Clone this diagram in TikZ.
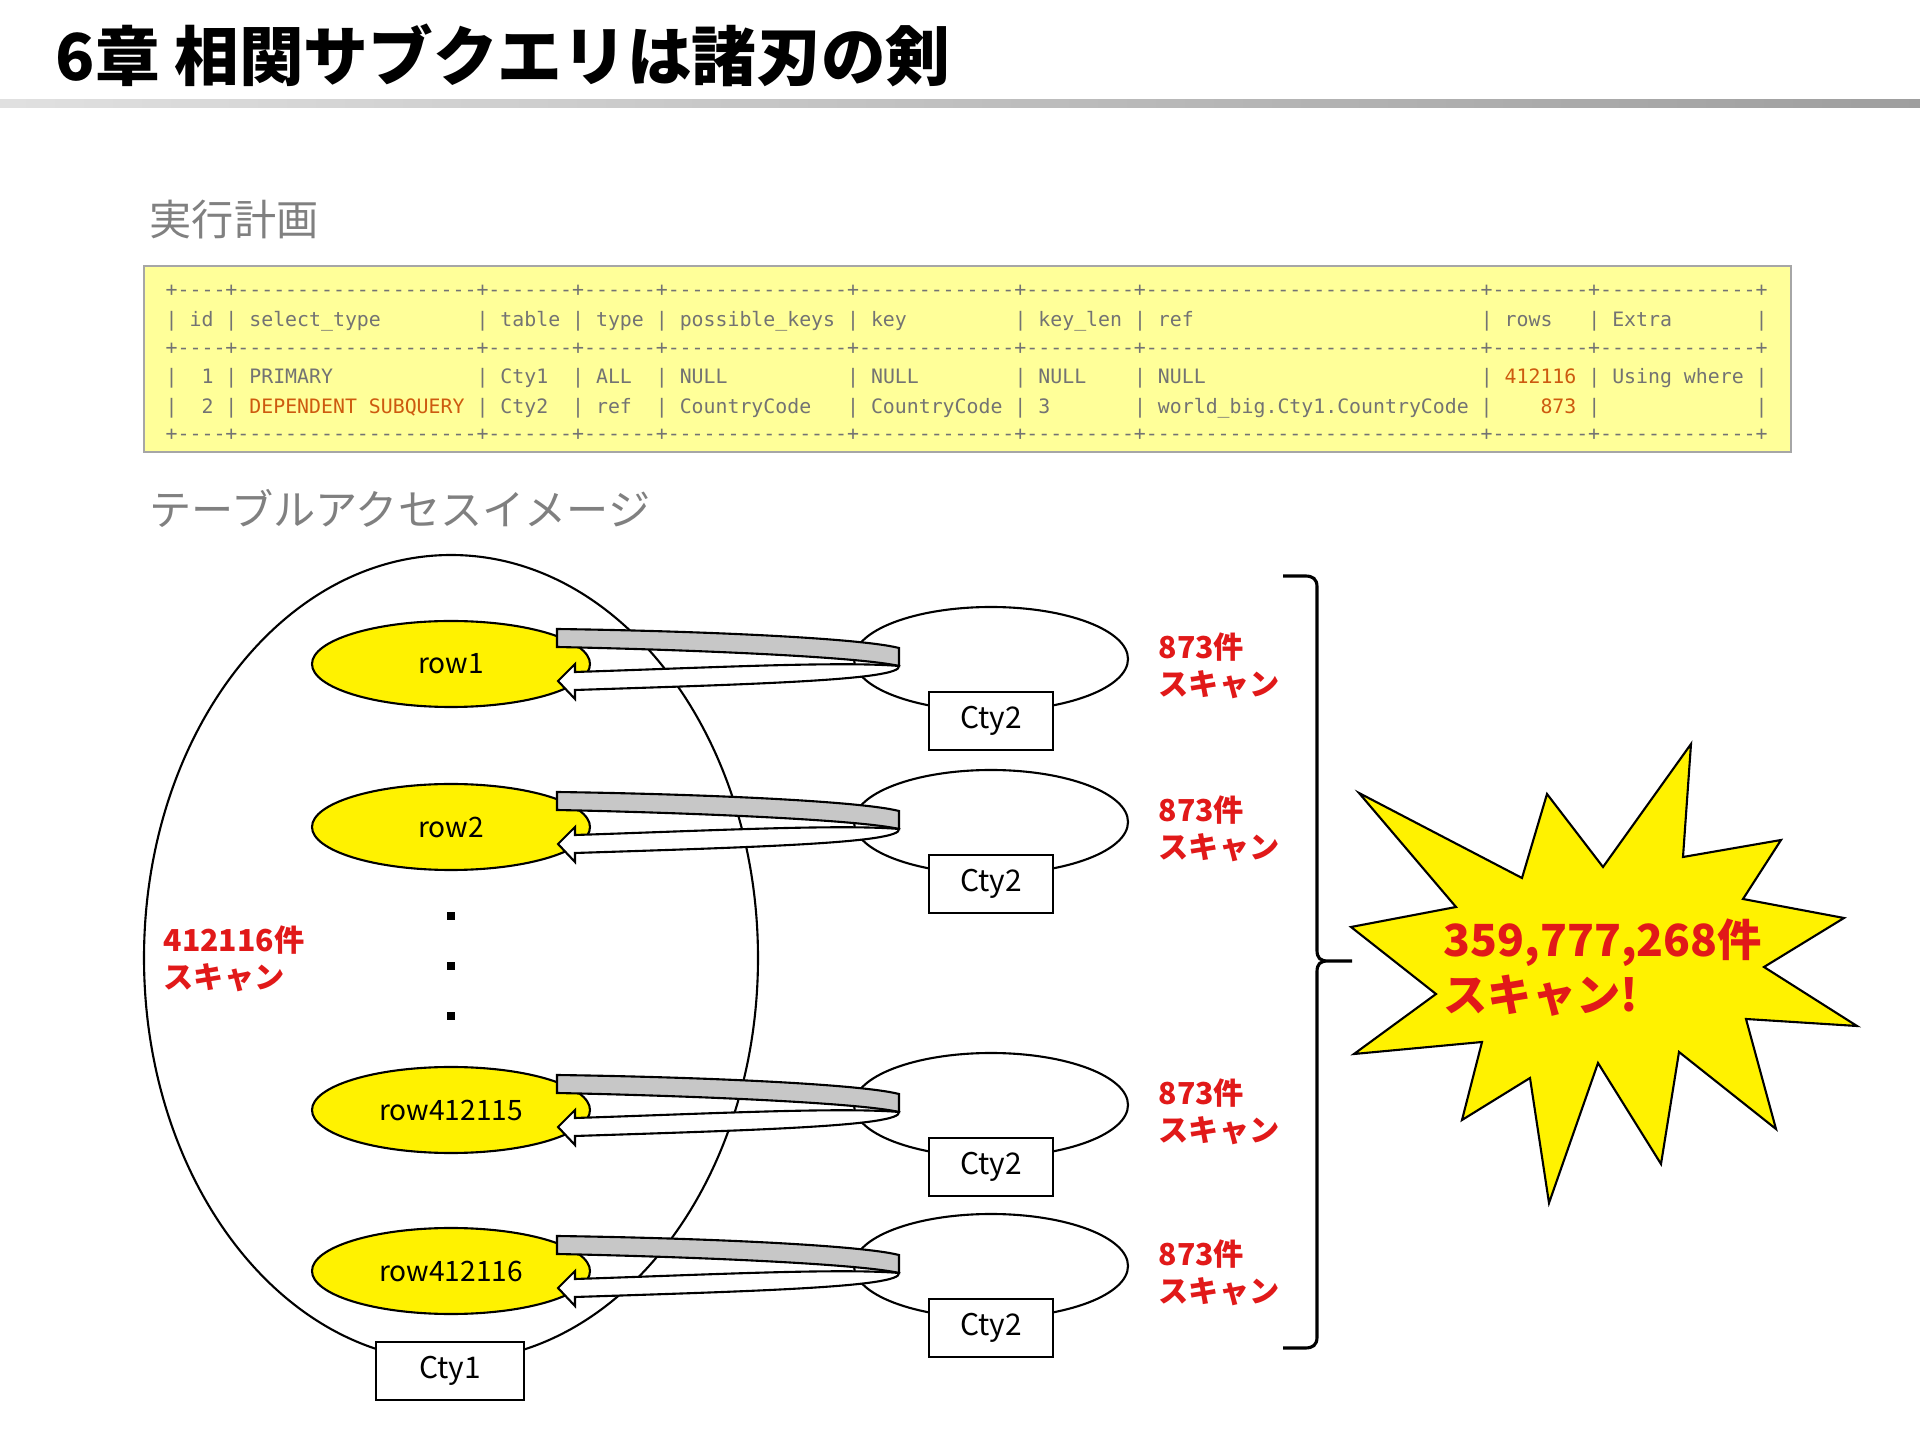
\documentclass[tikz,border=0pt]{standalone}
\usepackage{fontspec}
\setmainfont{Noto Sans CJK JP}
\setmonofont{DejaVu Sans Mono}
\usetikzlibrary{shapes.geometric}

\definecolor{hilite}{RGB}{255,255,153}
\definecolor{scanred}{RGB}{225,25,25}
\definecolor{orng}{RGB}{205,90,15}

\ExplSyntaxOn
\NewDocumentCommand\rep{mm}{\prg_replicate:nn{#1}{#2}}
\ExplSyntaxOff

% lines of the plan table
\newcommand{\tblrule}{+\rep{4}{-}+\rep{20}{-}+\rep{7}{-}+\rep{6}{-}+\rep{15}{-}+\rep{13}{-}+\rep{9}{-}+\rep{28}{-}+\rep{8}{-}+\rep{13}{-}+}
\newcommand{\tblhead}{|~id~|~select\_type\rep{8}{~}|~table~|~type~|~possible\_keys~|~key\rep{9}{~}|~key\_len~|~ref\rep{24}{~}|~rows\rep{3}{~}|~Extra\rep{7}{~}|}
\newcommand{\tblone}{|~~1~|~PRIMARY\rep{12}{~}|~Cty1~~|~ALL~~|~NULL\rep{10}{~}|~NULL\rep{8}{~}|~NULL\rep{4}{~}|~NULL\rep{23}{~}|~\textcolor{orng}{412116}~|~Using~where~|}
\newcommand{\tbltwo}{|~~2~|~\textcolor{orng}{DEPENDENT~SUBQUERY}~|~Cty2~~|~ref~~|~CountryCode~~~|~CountryCode~|~3\rep{7}{~}|~world\_big.Cty1.CountryCode~|\rep{4}{~}\textcolor{orng}{873}~|\rep{13}{~}|}

\begin{document}
\begin{tikzpicture}[x=0.1mm, y=-0.1mm,
  tblline/.style={anchor=west, inner sep=0pt, text=black!55, font=\ttfamily\fontsize{5.65}{6.5}\selectfont},
  rowell/.style={ellipse, draw, fill=yellow, line width=0.6pt, minimum width=27.8mm, minimum height=8.6mm, inner sep=0pt, font=\fontsize{8}{9.6}\selectfont},
  tblell/.style={ellipse, draw, line width=0.6pt, minimum width=27.4mm, minimum height=10.4mm},
  namebox/.style={draw, fill=white, line width=0.6pt, minimum width=12.4mm, minimum height=5.8mm, inner sep=0pt, font=\fontsize{8.5}{10}\selectfont},
  scanlbl/.style={anchor=west, align=left, inner sep=0pt, text=scanred, font=\bfseries\fontsize{8.6}{10.5}\selectfont},
  backband/.style={fill=black!22, draw, line width=0.6pt},
  frontband/.style={fill=white, draw, line width=0.6pt}]

  \useasboundingbox (0,0) rectangle (1920,1440);
  \fill[white] (0,0) rectangle (1920,1440);

  % Title and rule
  \node[anchor=west, inner sep=0pt, font=\bfseries\fontsize{18.4}{21}\selectfont] (title) at (55,55) {6章 相関サブクエリは諸刃の剣};
  \shade[left color=black!12, right color=black!38] (0,100) rectangle (1920,108);

  % Execution plan
  \node[anchor=west, inner sep=0pt, text=black!50, font=\fontsize{12}{14}\selectfont] (plan) at (149,220) {実行計画};
  \draw[fill=hilite, draw=black!35, line width=0.8pt] (144,266) rectangle (1791,452);
  \foreach \y/\txt/\n in {291/\tblrule/1, 321/\tblhead/2, 349/\tblrule/3, 378/\tblone/4, 408/\tbltwo/5, 435/\tblrule/6}
    \node[tblline] (tl\n) at (165,\y) {\txt};

  % Access image
  \node[anchor=west, inner sep=0pt, text=black!50, font=\fontsize{12}{14}\selectfont] (access) at (149,508) {テーブルアクセスイメージ};

  \node[ellipse, draw, line width=0.6pt, minimum width=61.4mm, minimum height=80.6mm] (cty1) at (451,958) {};

  \foreach \yc/\lbl/\i in {664/row1/1, 827/row2/2, 1110/row412115/3, 1271/row412116/4} {
    \node[tblell] (c\i) at (991,\yc-5) {};
    \node[rowell] (r\i) at (451,\yc) {\lbl};
    % u-turn arrow
    \begin{scope}[shift={(0,\yc)}]
      \filldraw[backband] (557,-35) .. controls (700,-33) and (860,-26) .. (899,-16) -- (899,2) .. controls (860,-7) and (700,-14) .. (557,-17) -- cycle;
      \filldraw[frontband] (575,8) .. controls (700,4) and (840,-3) .. (899,2) .. controls (902,16) and (760,20) .. (575,26) -- (575,35) -- (558,17) -- (575,0) -- cycle;
    \end{scope}
    \node[namebox] (b\i) at (991,\yc+57) {Cty2};
    \node[scanlbl] (s\i) at (1158,\yc+2) {873件\\スキャン};
  }

  % dots
  \foreach \y in {916,966,1016}
    \fill (447,\y-4) rectangle (455,\y+4);

  \node[scanlbl] (s0) at (163,959) {412116件\\スキャン};
  \node[namebox, minimum width=14.8mm] (cty1lbl) at (450,1371) {Cty1};

  % brace
  \draw[line width=0.9pt] (1283,576) -- (1305,576) .. controls (1313,576) and (1317,579) .. (1317,587) -- (1317,950)
    .. controls (1317,958) and (1320,961) .. (1328,961) -- (1352,961)
    (1328,961) .. controls (1320,961) and (1317,964) .. (1317,972) -- (1317,1337)
    .. controls (1317,1345) and (1313,1348) .. (1305,1348) -- (1283,1348);

  % burst
  \filldraw[fill=yellow, line width=0.6pt] (1691,744) -- (1683,857) -- (1781,840) -- (1743,899) -- (1844,918) -- (1764,967)
    -- (1857,1026) -- (1746,1019) -- (1776,1129) -- (1679,1052) -- (1661,1164) -- (1598,1063) -- (1549,1203)
    -- (1530,1078) -- (1462,1120) -- (1482,1042) -- (1354,1054) -- (1436,994) -- (1351,927) -- (1456,907)
    -- (1359,793) -- (1522,878) -- (1547,794) -- (1603,867) -- cycle;
  \node[anchor=west, align=left, inner sep=0pt, text=scanred, font=\bfseries\fontsize{12.6}{15.6}\selectfont] (total) at (1443,968) {359,777,268件\\スキャン!};

\end{tikzpicture}
\end{document}
